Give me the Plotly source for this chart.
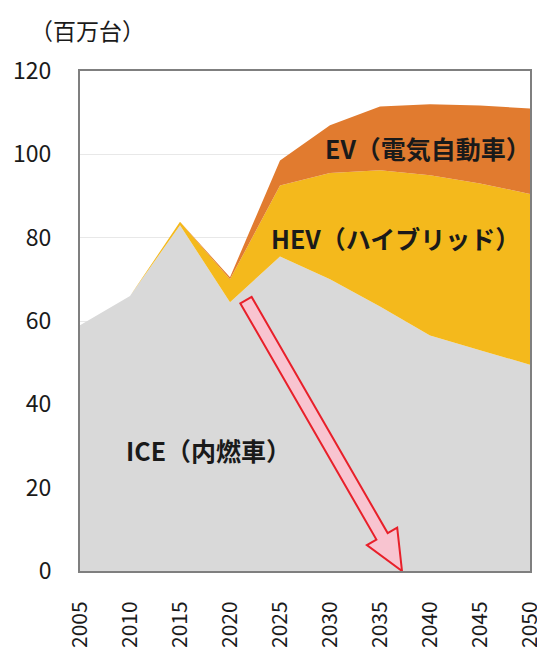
import numpy as np
import plotly.graph_objects as go

# ---- data (millions of vehicles) ----
years = [2005, 2010, 2015, 2020, 2025, 2030, 2035, 2040, 2045, 2050]
ice = [59, 66, 83, 64.5, 75.5, 70, 63.5, 56.5, 53, 49.5]
hev = [0, 0, 0.8, 5.5, 17, 25.5, 32.7, 38.5, 40, 41]
ev = [0, 0, 0, 0.5, 6, 11.5, 15.3, 17, 18.7, 20.5]

y_ticks = [0, 20, 40, 60, 80, 100, 120]
x_ticks = years
unit_label = "（百万台）"
labels = {"EV": "EV（電気自動車）", "HEV": "HEV（ハイブリッド）", "ICE": "ICE（内燃車）"}

# arrow (data coordinates)
arrow_start = (2021.6, 65.0)
arrow_end = (2037.2, 0.0)

FONT = "Noto Sans CJK JP, Noto Sans, sans-serif"

# page has an 8px body margin; figure is sized so the plot lands where the reference has it
W, H = 537, 640
ML, MR, MT, MB = 72, 15, 63, 77
PW, PH = W - ML - MR, H - MT - MB
XR = [2005, 2050]
YR = [0, 120]

def to_px(x, y):
    return (ML + (x - XR[0]) / (XR[1] - XR[0]) * PW,
            MT + PH - (y - YR[0]) / (YR[1] - YR[0]) * PH)

def to_data(px, py):
    return (XR[0] + (px - ML) / PW * (XR[1] - XR[0]),
            YR[0] + (MT + PH - py) / PH * (YR[1] - YR[0]))

fig = go.Figure()
fig.add_trace(go.Scatter(x=years, y=ice, stackgroup="s", mode="lines",
                         line=dict(width=0, color="#d9d9d9"), fillcolor="#d9d9d9", name="ICE"))
fig.add_trace(go.Scatter(x=years, y=hev, stackgroup="s", mode="lines",
                         line=dict(width=0, color="#f4b91c"), fillcolor="#f4b91c", name="HEV"))
fig.add_trace(go.Scatter(x=years, y=ev, stackgroup="s", mode="lines",
                         line=dict(width=0, color="#e17b2f"), fillcolor="#e17b2f", name="EV"))

# arrow polygon built in pixel space
p0 = np.array(to_px(*arrow_start))
p1 = np.array(to_px(*arrow_end))
d = p1 - p0
L = np.hypot(*d)
u = d / L
n = np.array([-u[1], u[0]])
sw, hw, hl = 6.5, 17.5, 40
base = p1 - u * hl
pts = [p0 + n * sw, base + n * sw, base + n * hw, p1,
       base - n * hw, base - n * sw, p0 - n * sw]
dpts = [to_data(*p) for p in pts]
path = "M " + " L ".join(f"{a},{b}" for a, b in dpts) + " Z"
fig.add_shape(type="path", path=path, xref="x", yref="y",
              fillcolor="#f8c4d0", line=dict(color="#e8202a", width=2))

ann_font = dict(family=FONT, size=25, color="#1a1a1a")
fig.add_annotation(x=2039.8, y=101.5, text="<b>" + labels["EV"] + "</b>", showarrow=False, font=ann_font)
fig.add_annotation(x=2036.5, y=80, text="<b>" + labels["HEV"] + "</b>", showarrow=False, font=ann_font)
fig.add_annotation(x=2017.8, y=29, text="<b>" + labels["ICE"] + "</b>", showarrow=False, font=ann_font)
fig.add_annotation(x=(20 - ML) / PW, y=(MT + PH - 22) / PH, xref="paper", yref="paper",
                   xanchor="left", yanchor="middle", text=unit_label, showarrow=False,
                   font=dict(family=FONT, size=23, color="#1a1a1a"))

fig.update_layout(
    width=W, height=H,
    margin=dict(l=ML, r=MR, t=MT, b=MB, autoexpand=False),
    paper_bgcolor="white", plot_bgcolor="white",
    showlegend=False,
    font=dict(family=FONT, color="#1a1a1a"),
)
fig.update_xaxes(range=XR, tickvals=x_ticks, ticktext=[str(v) for v in x_ticks],
                 tickangle=-90, showgrid=False, zeroline=False, automargin=False,
                 showline=True, mirror=True, linecolor="#7f7f7f", linewidth=2,
                 ticks="", ticklabelstandoff=20,
                 tickfont=dict(family=FONT, size=21, color="#1a1a1a"))
fig.update_yaxes(range=YR, tickvals=y_ticks, showgrid=True, gridcolor="#e8e8e8", gridwidth=1,
                 zeroline=False, showline=True, mirror=True, linecolor="#7f7f7f", linewidth=2,
                 ticks="", ticklabelstandoff=22, automargin=False,
                 tickfont=dict(family=FONT, size=23, color="#1a1a1a"))

fig.write_html("out.html")
